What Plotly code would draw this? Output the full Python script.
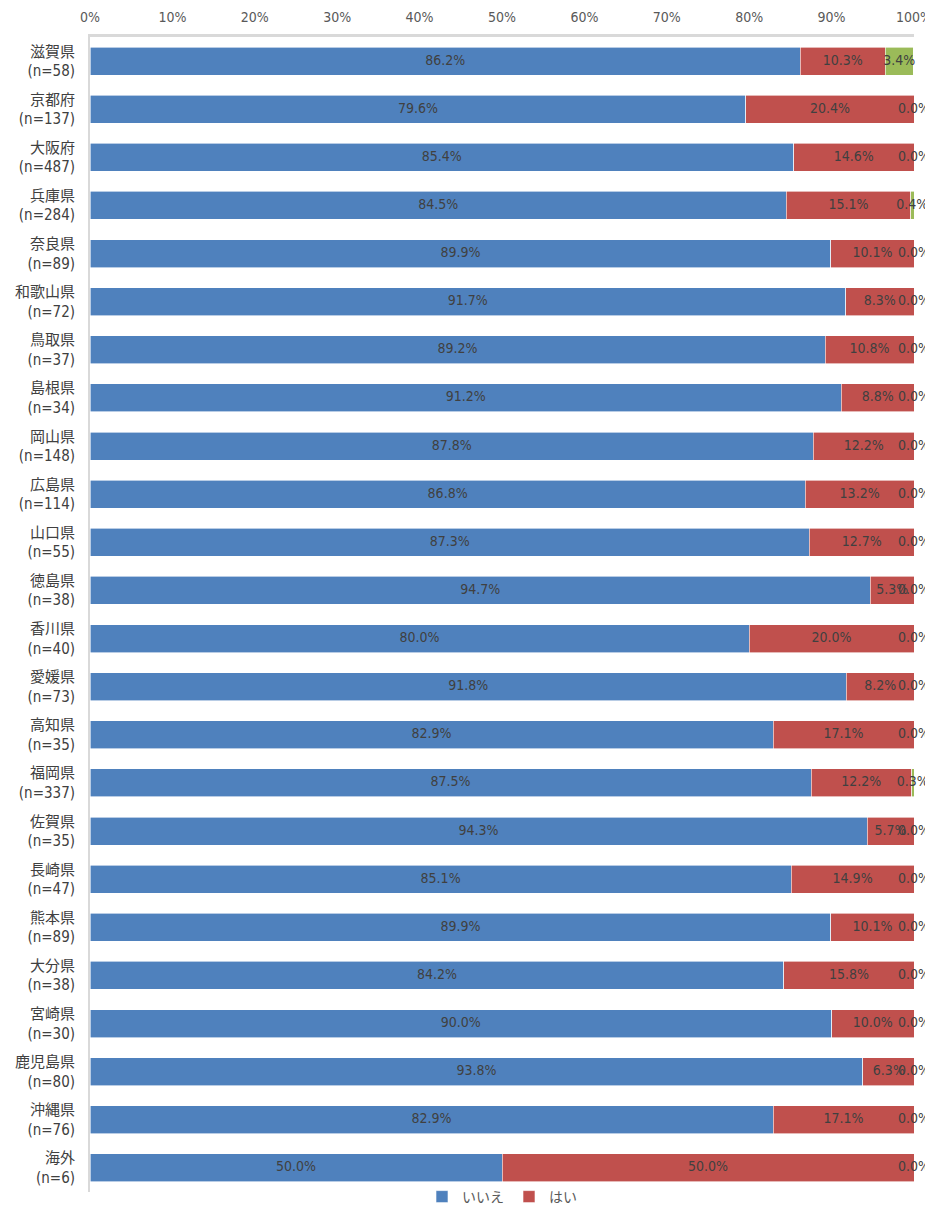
import plotly.graph_objects as go

prefs = ["滋賀県", "京都府", "大阪府", "兵庫県", "奈良県", "和歌山県", "鳥取県", "島根県",
         "岡山県", "広島県", "山口県", "徳島県", "香川県", "愛媛県", "高知県", "福岡県",
         "佐賀県", "長崎県", "熊本県", "大分県", "宮崎県", "鹿児島県", "沖縄県", "海外"]
n_values = [58, 137, 487, 284, 89, 72, 37, 34, 148, 114, 55, 38, 40, 73, 35, 337,
            35, 47, 89, 38, 30, 80, 76, 6]
iie = [86.2, 79.6, 85.4, 84.5, 89.9, 91.7, 89.2, 91.2, 87.8, 86.8, 87.3, 94.7,
       80.0, 91.8, 82.9, 87.5, 94.3, 85.1, 89.9, 84.2, 90.0, 93.8, 82.9, 50.0]
hai = [10.3, 20.4, 14.6, 15.1, 10.1, 8.3, 10.8, 8.8, 12.2, 13.2, 12.7, 5.3,
       20.0, 8.2, 17.1, 12.2, 5.7, 14.9, 10.1, 15.8, 10.0, 6.3, 17.1, 50.0]
mukaito = [3.4, 0.0, 0.0, 0.4, 0.0, 0.0, 0.0, 0.0, 0.0, 0.0, 0.0, 0.0,
           0.0, 0.0, 0.0, 0.3, 0.0, 0.0, 0.0, 0.0, 0.0, 0.0, 0.0, 0.0]
x_ticks = [0, 10, 20, 30, 40, 50, 60, 70, 80, 90, 100]

cats = [f"{p}<br>(n={n})" for p, n in zip(prefs, n_values)]

FONT = "DejaVu Sans Condensed, Liberation Sans Narrow, Noto Sans CJK JP, sans-serif"
series = [("いいえ", iie, "#4F81BD", True), ("はい", hai, "#C0504D", True),
          ("無回答", mukaito, "#9BBB59", False)]

fig = go.Figure()
base = [0.0] * len(cats)
label_x, label_y, label_t = [], [], []
for name, vals, color, show in series:
    fig.add_trace(go.Bar(
        y=cats, x=vals, orientation="h", name=name, showlegend=show,
        marker=dict(color=color, line=dict(color="white", width=0.6)),
    ))
    for i, v in enumerate(vals):
        label_x.append(min(base[i] + v / 2, 100.0))
        label_y.append(cats[i])
        label_t.append(f"{v:.1f}%")
        base[i] += v

fig.add_trace(go.Scatter(
    x=label_x, y=label_y, text=label_t, mode="text", showlegend=False,
    textfont=dict(family=FONT, size=14, color="#404040"), hoverinfo="skip",
    cliponaxis=False,
))

# page body has an 8px margin, so the figure is sized/offset to compensate
fig.update_layout(
    width=925, height=1205,
    barmode="stack", bargap=0.42,
    plot_bgcolor="white", paper_bgcolor="white",
    margin=dict(l=82, r=19, t=29, b=21, autoexpand=False),
    font=dict(family=FONT, color="#595959", size=14),
    legend=dict(orientation="h", x=0.5, xanchor="center",
                yref="container", y=-0.0135, yanchor="bottom",
                bgcolor="rgba(0,0,0,0)",
                font=dict(size=14, color="#595959"), itemwidth=30,
                traceorder="normal", tracegroupgap=0),
    xaxis=dict(side="top", range=[0, 100], tickvals=x_ticks,
               ticktext=[f"{t}%" for t in x_ticks], showgrid=False,
               showline=True, linecolor="#D9D9D9", linewidth=3, zeroline=False,
               ticks="", tickfont=dict(size=14, color="#595959"), automargin=False,
               ticklabelstandoff=6),
    yaxis=dict(autorange=False, range=[len(cats) - 0.5, -0.5], showgrid=False,
               showline=True, linecolor="#D9D9D9", linewidth=2, ticks="",
               tickfont=dict(size=15, color="#404040"), automargin=False,
               ticklabelstandoff=10),
)

fig.write_html("out.html")
